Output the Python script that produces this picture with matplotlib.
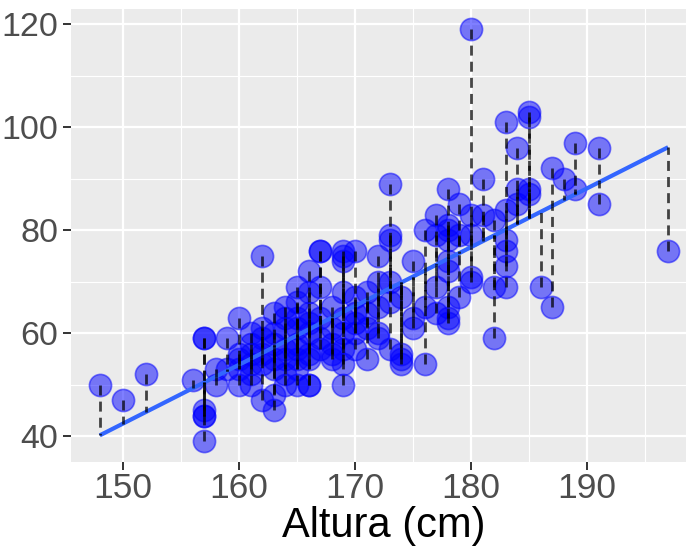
import numpy as np
import matplotlib
matplotlib.use("Agg")
import matplotlib.pyplot as plt
from matplotlib.ticker import MultipleLocator

# Altura (cm) -> list of Peso values observed at that height
heights_cols = [148, 150, 152, 156, 157, 158, 159, 160, 161, 162, 163, 164, 165, 166,
                167, 168, 169, 170, 171, 172, 173, 174, 175, 176, 177, 178, 179, 180,
                181, 182, 183, 184, 185, 186, 187, 188, 189, 191, 197]
weights_cols = [
    [50], [47], [52], [51],
    [59, 59, 45, 44, 44, 39],
    [53, 50],
    [59, 53],
    [63, 56, 55, 53, 50],
    [60, 58, 56, 54, 52, 50],
    [75, 61, 59, 56, 54, 47],
    [64, 60, 58, 55, 53, 48, 45],
    [65, 63, 61, 57, 55, 52, 50],
    [69, 66, 63, 61, 58, 57, 55, 53, 50],
    [72, 68, 64, 62, 60, 56, 55, 50, 50],
    [76, 76, 69, 63, 59, 57],
    [65, 61, 58, 56, 55],
    [76, 75, 74, 68, 63, 60, 57, 54, 50],
    [76, 67, 64, 62, 60, 57],
    [68, 64, 61, 55],
    [75, 70, 65, 60, 59],
    [89, 79, 78, 70, 66, 57],
    [67, 56, 55, 54],
    [74, 63, 61],
    [80, 65, 54],
    [83, 79, 69, 64],
    [88, 81, 80, 78, 74, 72, 65, 63, 62],
    [85, 79, 67],
    [119, 83, 79, 71, 70],
    [90, 83],
    [82, 69, 59],
    [101, 84, 78, 76, 73, 69],
    [96, 88, 85],
    [103, 102, 88, 87],
    [69],
    [92, 65],
    [90],
    [97, 88],
    [96, 85],
    [76],
]

x = np.array([h for h, ws in zip(heights_cols, weights_cols) for _ in ws], dtype=float)
y = np.array([w for ws in weights_cols for w in ws], dtype=float)

slope, intercept = np.polyfit(x, y, 1)
yhat = intercept + slope * x

fig = plt.figure(figsize=(6.86, 5.6), dpi=100)
ax = fig.add_axes([0.1040, 0.1750, 0.9114, 0.8095])
ax.set_facecolor("#EBEBEB")
for s in ax.spines.values():
    s.set_visible(False)

ax.set_xlim(145.55, 199.45)
ax.set_ylim(35, 123)
ax.xaxis.set_major_locator(MultipleLocator(10))
ax.xaxis.set_minor_locator(MultipleLocator(5))
ax.yaxis.set_major_locator(MultipleLocator(20))
ax.yaxis.set_minor_locator(MultipleLocator(10))
ax.grid(which="major", color="white", linewidth=1.6)
ax.grid(which="minor", color="white", linewidth=0.8)
ax.set_axisbelow(True)

ax.tick_params(which="major", length=5.5, width=1.4, color="#333333",
               labelsize=25.5, labelcolor="#4D4D4D")
ax.tick_params(axis="x", which="major", pad=1.5)
ax.tick_params(axis="y", which="major", pad=4, labelsize=24.5)
ax.tick_params(which="minor", length=0)
for lab in ax.get_xticklabels() + ax.get_yticklabels():
    lab.set_family("Liberation Sans")

ax.scatter(x, y, s=255, facecolor=(0, 0, 1, 0.5), edgecolor=(0, 0, 1, 0.5),
           linewidth=1.2, zorder=3)

xs = np.array([x.min(), x.max()])
ax.plot(xs, intercept + slope * xs, color="#3366FF", linewidth=3, zorder=4,
        solid_capstyle="butt")

ax.vlines(x, y, yhat, colors=(0, 0, 0, 0.72), linestyles=(0, (3.6, 2.2)),
          linewidth=2.0, zorder=5)

ax.set_xlabel("Altura (cm)", fontsize=30, family="Liberation Sans", color="black",
              labelpad=1)

fig.savefig("out.png", dpi=100)
